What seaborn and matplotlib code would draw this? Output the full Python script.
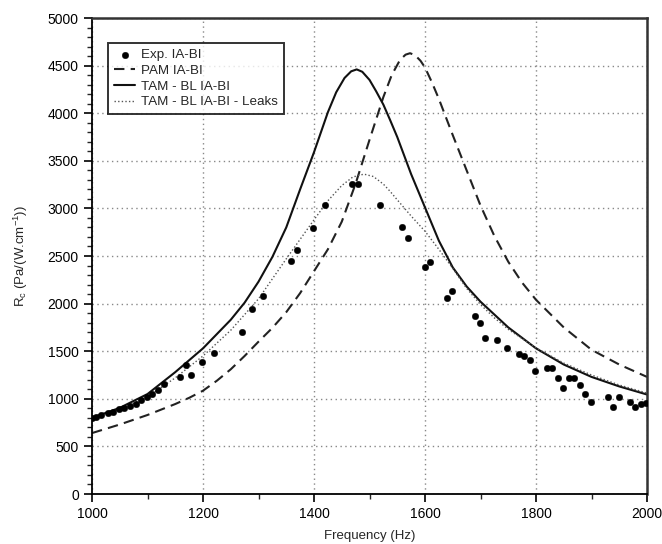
import numpy as np
import pandas as pd
import matplotlib
matplotlib.use("Agg")
import matplotlib.pyplot as plt
from matplotlib.ticker import MultipleLocator
import seaborn as sns

# Experimental data (Exp. IA-BI)
exp_freq = [1000, 1008, 1017, 1028, 1038, 1049, 1058, 1068, 1079, 1089, 1099, 1109, 1119, 1130,
            1159, 1169, 1179, 1199, 1219, 1270, 1289, 1309, 1359, 1369, 1399, 1419, 1469, 1479,
            1519, 1559, 1569, 1600, 1609, 1639, 1649, 1690, 1699, 1709, 1729, 1748, 1769, 1779,
            1789, 1799, 1819, 1829, 1839, 1849, 1859, 1869, 1879, 1889, 1899, 1929, 1939, 1949,
            1969, 1979, 1989, 1998]
exp_rc = [795, 812, 830, 847, 865, 893, 907, 924, 945, 987, 1015, 1050, 1092, 1155,
          1232, 1355, 1250, 1383, 1477, 1705, 1943, 2083, 2450, 2560, 2790, 3036, 3253, 3253,
          3036, 2801, 2686, 2388, 2434, 2055, 2136, 1870, 1793, 1642, 1614, 1537, 1470, 1453,
          1411, 1292, 1320, 1320, 1215, 1117, 1215, 1215, 1145, 1050, 963, 1022, 910, 1022,
          963, 910, 945, 952]

# PAM IA-BI (dashed)
pam_freq = [1000, 1050, 1100, 1150, 1175, 1200, 1225, 1250, 1275, 1300, 1325, 1350, 1375, 1400,
            1425, 1450, 1475, 1500, 1525, 1540, 1555, 1565, 1573, 1582, 1592, 1600, 1612, 1625,
            1650, 1675, 1700, 1725, 1750, 1775, 1800, 1850, 1900, 1950, 2000]
pam_rc = [640, 730, 830, 945, 1010, 1085, 1190, 1310, 1450, 1600, 1745, 1910, 2110, 2340,
          2570, 2860, 3260, 3720, 4170, 4400, 4560, 4615, 4630, 4610, 4550, 4480, 4330, 4150,
          3770, 3400, 3030, 2710, 2440, 2220, 2040, 1750, 1515, 1360, 1230]

# TAM - BL IA-BI (solid)
tam_freq = [1000, 1050, 1100, 1150, 1200, 1250, 1275, 1300, 1325, 1350, 1375, 1400, 1425, 1440,
            1455, 1467, 1477, 1487, 1500, 1512, 1525, 1537, 1550, 1575, 1600, 1625, 1650, 1675,
            1700, 1750, 1800, 1850, 1900, 1950, 2000]
tam_rc = [800, 905, 1050, 1280, 1530, 1830, 2010, 2230, 2490, 2800, 3200, 3590, 4010, 4220,
          4370, 4440, 4460, 4435, 4350, 4230, 4090, 3930, 3750, 3360, 3010, 2660, 2380, 2180,
          2020, 1750, 1530, 1360, 1230, 1130, 1045]

# TAM - BL IA-BI - Leaks (dotted)
leak_freq = [1000, 1050, 1100, 1150, 1200, 1250, 1300, 1350, 1400, 1425, 1450, 1470, 1490,
             1507, 1525, 1537, 1550, 1575, 1600, 1625, 1650, 1675, 1700, 1725, 1750, 1800,
             1850, 1900, 1950, 2000]
leak_rc = [795, 890, 1020, 1220, 1450, 1720, 2050, 2470, 2880, 3080, 3240, 3330, 3360,
           3335, 3255, 3180, 3090, 2920, 2760, 2570, 2370, 2160, 1990, 1850, 1730, 1535,
           1375, 1250, 1145, 1060]

x_ticks = [1000, 1200, 1400, 1600, 1800, 2000]
y_ticks = [0, 500, 1000, 1500, 2000, 2500, 3000, 3500, 4000, 4500, 5000]

sns.set_style("white")
plt.rcParams['font.family'] = ['Liberation Sans', 'DejaVu Sans']
plt.rcParams['mathtext.fontset'] = 'custom'
plt.rcParams['mathtext.rm'] = 'Liberation Sans'
plt.rcParams['mathtext.it'] = 'Liberation Sans'

fig = plt.figure(figsize=(6.62, 5.44), dpi=100)
ax = fig.add_axes([92/662, 50/544, 555/662, 476/544])

exp_df = pd.DataFrame({"f": exp_freq, "rc": exp_rc})
pam_df = pd.DataFrame({"f": pam_freq, "rc": pam_rc})
tam_df = pd.DataFrame({"f": tam_freq, "rc": tam_rc})
leak_df = pd.DataFrame({"f": leak_freq, "rc": leak_rc})

sns.lineplot(data=pam_df, x="f", y="rc", ax=ax, color="#222222", lw=1.5,
             linestyle=(0, (5, 3)), label="PAM IA-BI")
sns.lineplot(data=tam_df, x="f", y="rc", ax=ax, color="#111111", lw=1.5,
             label="TAM - BL IA-BI")
sns.lineplot(data=leak_df, x="f", y="rc", ax=ax, color="#555555", lw=1.0,
             linestyle=(0, (1, 1.6)), label="TAM - BL IA-BI - Leaks")
sns.scatterplot(data=exp_df, x="f", y="rc", ax=ax, color="black", s=22,
                edgecolor="black", linewidth=0.3, label="Exp. IA-BI", zorder=5)

ax.set_xlim(1000, 2000)
ax.set_ylim(0, 5000)
ax.set_xticks(x_ticks)
ax.set_yticks(y_ticks)
ax.xaxis.set_minor_locator(MultipleLocator(100))
ax.yaxis.set_minor_locator(MultipleLocator(100))
ax.grid(True, which="major", linestyle=(0, (1, 2.5)), color="#888888", lw=1.0)
ax.tick_params(axis="both", which="major", direction="out", length=6, width=1.2,
               labelsize=10, colors="black", left=True, bottom=True, top=False, right=False)
ax.tick_params(axis="both", which="minor", direction="out", length=3.5, width=1.0,
               left=True, bottom=True, top=False, right=False)
for s in ["left", "bottom"]:
    ax.spines[s].set_color("black")
    ax.spines[s].set_linewidth(1.3)
for s in ["top", "right"]:
    ax.spines[s].set_color("#333333")
    ax.spines[s].set_linewidth(1.8)
    ax.spines[s].set_visible(True)

ax.set_xlabel("Frequency (Hz)", fontsize=9.5, labelpad=6)
ax.set_ylabel(r"R$_{\rm c}$ (Pa/(W.cm$^{-1}$))", fontsize=9.5, labelpad=13)

h, l = ax.get_legend_handles_labels()
order = [l.index("Exp. IA-BI"), l.index("PAM IA-BI"), l.index("TAM - BL IA-BI"),
         l.index("TAM - BL IA-BI - Leaks")]
leg = ax.legend([h[i] for i in order], [l[i] for i in order], loc="upper left",
                bbox_to_anchor=(0.029, 0.9475), frameon=True, fancybox=False,
                fontsize=9.6, handlelength=1.6, handletextpad=0.45, labelspacing=0.25,
                borderpad=0.45, borderaxespad=0)
leg.get_frame().set_edgecolor("black")
leg.get_frame().set_linewidth(1.4)

fig.savefig("out.png", dpi=100)
